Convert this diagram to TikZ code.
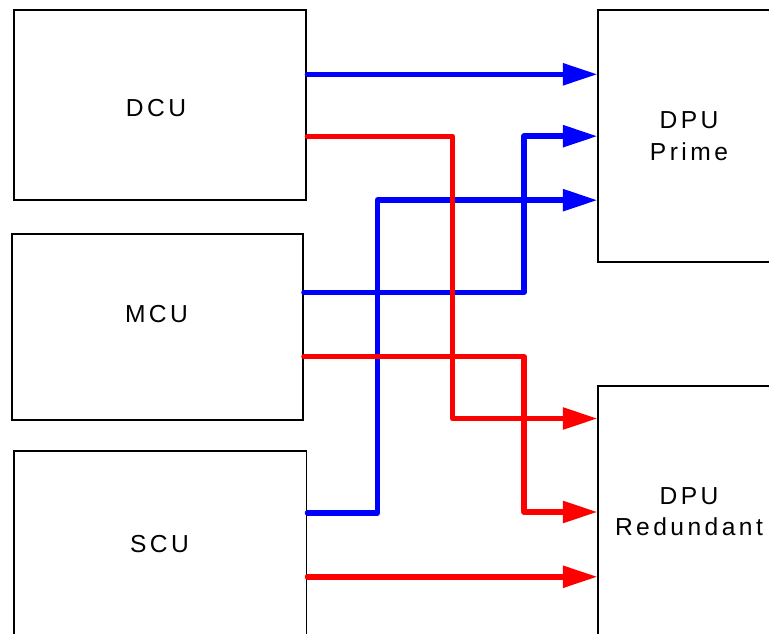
\documentclass[tikz,border=0pt]{standalone}
\usepackage{fontspec}
\newfontfamily\unitfont[LetterSpace=14]{Liberation Sans}
\usepackage{tikz}
\usetikzlibrary{arrows.meta}
\tikzstyle{unit} = [draw, line width=1.1pt, minimum width=5.85cm, minimum height=3.8cm, inner sep=0pt]
\tikzstyle{dpu} = [draw, line width=0.9pt, minimum width=3.6cm, minimum height=5.04cm, inner sep=0pt]
\tikzstyle{unitlabel} = [font=\unitfont\fontsize{14}{18}\selectfont, align=center, inner sep=0pt]
\tikzstyle{bus} = [line width=3.1pt, line cap=round, line join=round, -{Triangle[length=0.69cm,width=0.42cm]}]

\begin{document}
\begin{tikzpicture}[x=0.02cm, y=-0.02cm]
\useasboundingbox (0,0) rectangle (769,634);
    \clip (0,0) rectangle (769,634);

    \node[unit] (dcu) at (160.2,105.3) {};
    \node[unit, minimum width=5.82cm, minimum height=3.72cm] (mcu) at (157.5,327) {};
    \node[unit] (scu) at (160.3,545.8) {};
    \node[dpu] (prime) at (688.2,136.2) {};
    \node[dpu] (redundant) at (688.2,512) {};

    \node[unitlabel] (dcutext) at (156,107.8) {DCU};
    \node[unitlabel] (mcutext) at (156.5,314) {MCU};
    \node[unitlabel] (scutext) at (159.5,544) {SCU};
    \node[unitlabel] (primetext) at (689,136) {DPU\\Prime};
    \node[unitlabel] (redundanttext) at (689,511.5) {DPU\\Redundant};

    \draw[bus, blue] ([yshift=0.62cm]dcu.east) -- ([yshift=0.62cm]dcu.east -| prime.west);
    \draw[bus, blue] ([yshift=0.69cm]mcu.east) -| ([xshift=-1.47cm]prime.west) -- (prime.west);
    \draw[bus, blue] ([yshift=0.66cm]scu.east) -| ([xshift=-4.4cm,yshift=-1.28cm]prime.west) -- ([yshift=-1.28cm]prime.west);

    \draw[bus, red] ([yshift=-0.62cm]dcu.east) -| ([xshift=-2.9cm,yshift=1.87cm]redundant.west) -- ([yshift=1.87cm]redundant.west);
    \draw[bus, red] ([yshift=-0.59cm]mcu.east) -| ([xshift=-1.47cm]redundant.west) -- (redundant.west);
    \draw[bus, red] ([yshift=-0.62cm]scu.east) -- ([yshift=-0.62cm]scu.east -| redundant.west);
\end{tikzpicture}
\end{document}
